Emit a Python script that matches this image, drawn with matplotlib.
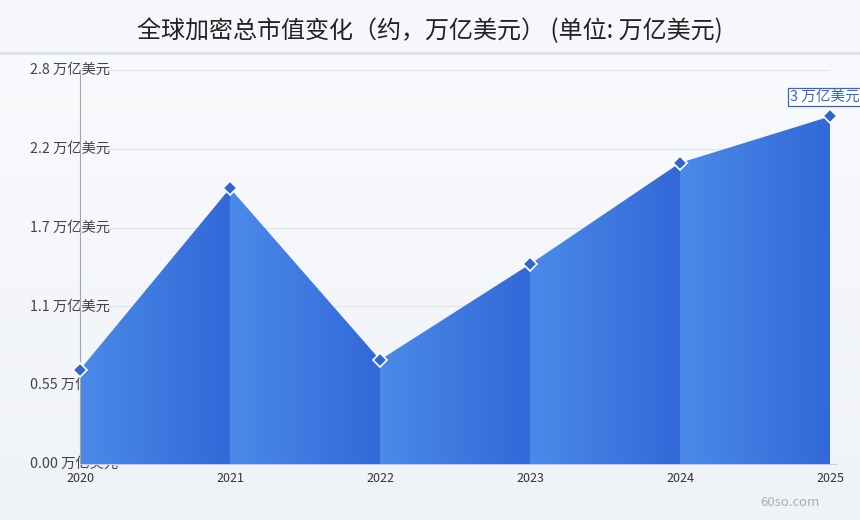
import numpy as np
import matplotlib.pyplot as plt
from matplotlib.patches import Polygon
from matplotlib.colors import LinearSegmentedColormap

plt.rcParams['font.family'] = ['Noto Sans CJK SC', 'DejaVu Sans']

# data
years = [2020, 2021, 2022, 2023, 2024, 2025]
values = [0.67, 1.96, 0.74, 1.42, 2.14, 2.47]
ytick_vals = [0.0, 0.56, 1.12, 1.68, 2.24, 2.8]
ytick_text = ['0.00 万亿美元', '0.55 万亿美元', '1.1 万亿美元', '1.7 万亿美元',
              '2.2 万亿美元', '2.8 万亿美元']
last_label = '3 万亿美元'
title = '全球加密总市值变化（约，万亿美元） (单位: 万亿美元)'

fig = plt.figure(figsize=(8.6, 5.2), dpi=100)

# background: header band + soft vertical gradient
bg = fig.add_axes([0, 0, 1, 1], zorder=-10)
bg.set_xlim(0, 1)
bg.set_ylim(0, 1)
bg.axis('off')
grad = np.linspace(0, 1, 256).reshape(-1, 1)
bg_cmap = LinearSegmentedColormap.from_list('bg', ['#EFF2F7', '#FAFBFD'])
bg.imshow(grad, cmap=bg_cmap, aspect='auto', extent=[0, 1, 0, 1], origin='lower')
bg.axhspan(1 - 52 / 520, 1, color='#F6F7FA', lw=0)
bg.axhspan(1 - 55 / 520, 1 - 52 / 520, color='#DEE2EA', lw=0)
fig.text(0.5, 1 - 31 / 520, title, ha='center', va='center', fontsize=17.3, color='#222222')
fig.text(760 / 860, 1 - 503 / 520, '60so.com', ha='left', va='center', fontsize=9.5, color='#A8AEB8')

ax = fig.add_axes([80 / 860, 56 / 520, 750 / 860, 394 / 520])
ax.set_xlim(2020, 2025)
ax.set_ylim(0, 2.8)
ax.patch.set_alpha(0)
for s in ['top', 'right']:
    ax.spines[s].set_visible(False)
ax.spines['left'].set_color('#A3A8B0')
ax.spines['bottom'].set_color('#C9CDD5')
ax.spines['bottom'].set_bounds(2020, 2025.04)

# grid lines
for v in ytick_vals[1:]:
    ax.axhline(v, color='#E2E5EB', lw=0.9, zorder=0)

# y tick labels drawn inside, behind the fill
ax.set_yticks([])
for v, t in zip(ytick_vals, ytick_text):
    ax.text(-0.066, v, t, transform=ax.get_yaxis_transform(), ha='left', va='center',
            fontsize=10.3, color='#444444', zorder=1)

ax.set_xticks(years)
ax.set_xticklabels([str(y) for y in years], fontsize=9, color='#333333')
ax.tick_params(axis='x', length=0, pad=6)

# gradient filled segments
seg_cmap = LinearSegmentedColormap.from_list('seg', ['#4B8AE9', '#3268D8'])
hgrad = np.linspace(0, 1, 256).reshape(1, -1)
for i in range(len(years) - 1):
    x0, x1 = years[i], years[i + 1]
    y0, y1 = values[i], values[i + 1]
    poly = Polygon([(x0, 0), (x0, y0), (x1, y1), (x1, 0)], closed=True,
                   facecolor='none', edgecolor='none')
    ax.add_patch(poly)
    im = ax.imshow(hgrad, cmap=seg_cmap, aspect='auto', extent=[x0, x1, 0, 2.8],
                   origin='lower', zorder=2)
    im.set_clip_path(poly)

ax.set_xlim(2020, 2025)
ax.set_ylim(0, 2.8)

ax.plot(years, values, linestyle='none', marker='D', markersize=7,
        markerfacecolor='#3366CC', markeredgecolor='white', markeredgewidth=1.2,
        zorder=5, clip_on=False)

ax.annotate(last_label, (years[-1], values[-1]), xytext=(-4, 14), textcoords='offset points',
            ha='center', va='center', fontsize=10.5, color='#3366CC', annotation_clip=False,
            bbox=dict(boxstyle='square,pad=0.12', facecolor='white', edgecolor='#3366CC', lw=0.9),
            zorder=6)

fig.savefig('out.png', dpi=100)
